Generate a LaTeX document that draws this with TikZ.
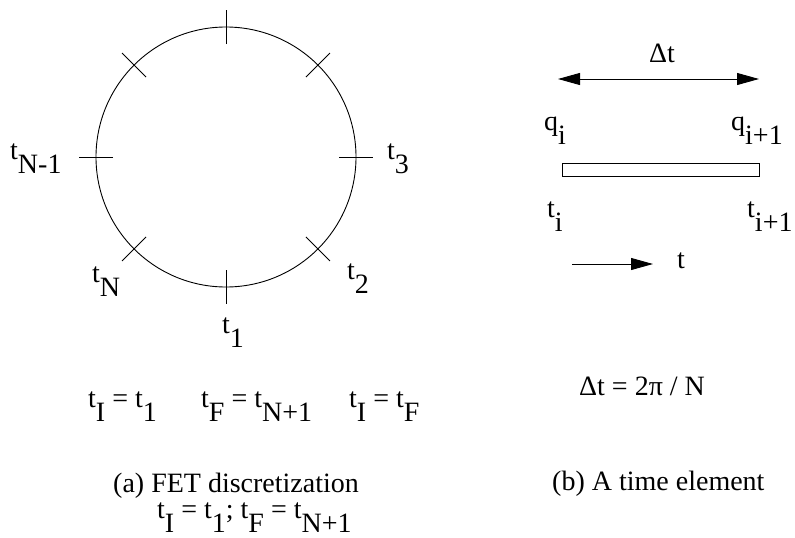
\documentclass[tikz,border=0pt]{standalone}
\usepackage{fontspec}
\setmainfont{Liberation Serif}
\usetikzlibrary{arrows.meta,calc}
\newcommand{\lo}[1]{\raisebox{-14pt}{#1}}
\tikzset{
  lbl/.style={inner sep=0pt, anchor=base west, font=\fontsize{28}{28}\selectfont},
  tick/.style={line width=0.9pt},
  bigarrow/.style={line width=0.9pt, -{Triangle[length=22pt,width=12pt]}},
}
\begin{document}
\begin{tikzpicture}[x=1pt,y=-1pt]
\useasboundingbox (0,0) rectangle (795,538);
% circle
\node[draw, circle, line width=0.9pt, minimum size=260pt, inner sep=0pt] (c) at (226,157) {};
\foreach \a in {0,45,...,315}{
  \draw[tick] ($(c.center)+(\a:113)$) -- ($(c.center)+(\a:147)$);
}
% labels around circle
\node[lbl] (tn1) at (10,159) {t\lo{N-1}};
\node[lbl] (t3) at (387,159) {t\lo{3}};
\node[lbl] (tN) at (92,282) {t\lo{N}};
\node[lbl] (t2) at (347,279) {t\lo{2}};
\node[lbl] (t1) at (222,333) {t\lo{1}};
% bottom left equations
\node[lbl] (eq1) at (88,407) {t\lo{I} = t\lo{1}};
\node[lbl] (eq2) at (201,407) {t\lo{F} = t\lo{N+1}};
\node[lbl] (eq3) at (349,407) {t\lo{I} = t\lo{F}};
\node[lbl] (capa) at (113,492) {(a) FET discretization};
\node[lbl] (capa2) at (157,518) {t\lo{I} = t\lo{1}; t\lo{F} = t\lo{N+1}};
% right panel
\coordinate (dl) at (558,79);
\coordinate (dr) at (759,79);
\draw[bigarrow, {Triangle[length=22pt,width=12pt]}-{Triangle[length=22pt,width=12pt]}] (dl) -- (dr);
\node[lbl, anchor=base] (dt) at (662,62) {Δt};
\node[lbl] (qi) at (544,130) {q\lo{i}};
\node[lbl] (qi1) at (731,130) {q\lo{i+1}};
\node[draw, line width=0.9pt, minimum width=197pt, minimum height=13pt, inner sep=0pt, anchor=north west] (el) at (562,163) {};
\node[lbl] (ti) at (547,217) {t\lo{i}};
\node[lbl] (ti1) at (747,217) {t\lo{i+1}};
\coordinate (al) at (572,264);
\coordinate (ar) at (653,264);
\draw[bigarrow] (al) -- (ar);
\node[lbl] (tt) at (677,268) {t};
\node[lbl] (dteq) at (579,395) {Δt = 2π / N};
\node[lbl] (capb) at (552,490) {(b) A time element};
\end{tikzpicture}
\end{document}
